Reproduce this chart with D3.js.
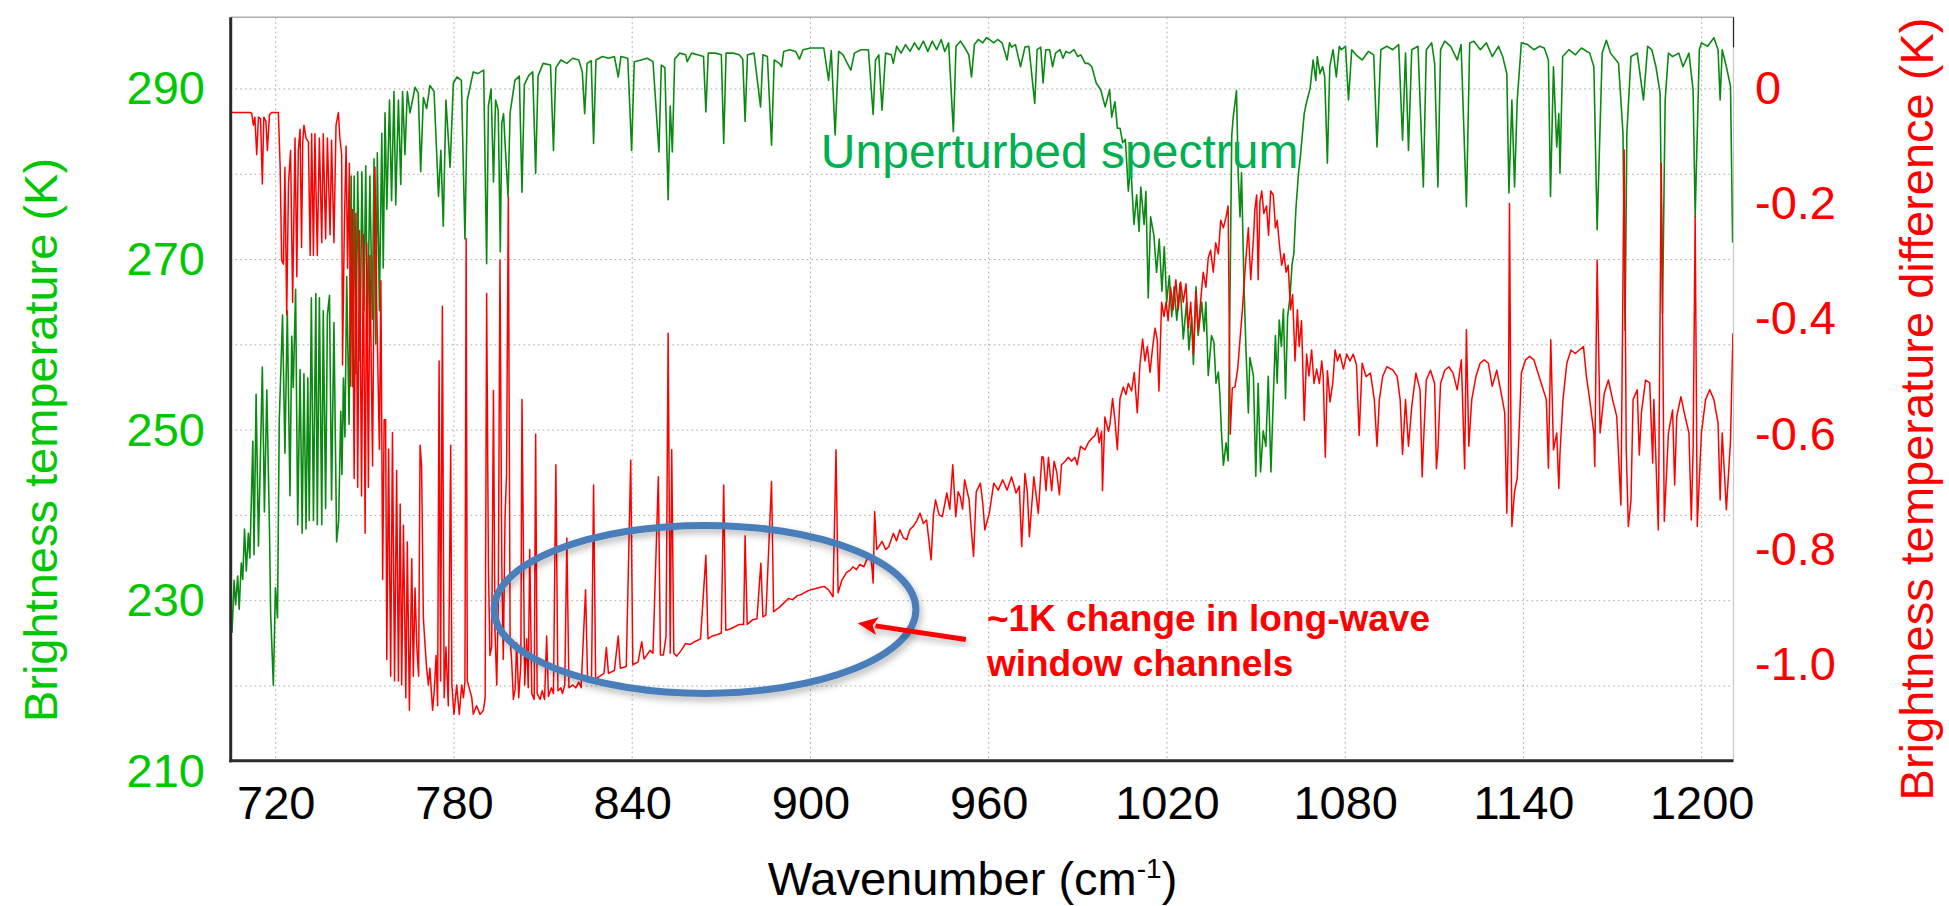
<!DOCTYPE html>
<html>
<head>
<meta charset="utf-8">
<script src="https://cdn.jsdelivr.net/npm/d3@7"></script>
<style>
  html, body { margin: 0; padding: 0; background: #ffffff; }
  svg { display: block; }
  text { font-family: "Liberation Sans", Arial, Helvetica, sans-serif; }
</style>
</head>
<body>
<svg id="chart" width="1949" height="906"></svg>
<script>
// ---------------- data ----------------
const xTicks = [720, 780, 840, 900, 960, 1020, 1080, 1140, 1200];
const leftTicks = [210, 230, 250, 270, 290];
const leftGrid = [220, 230, 240, 250, 260, 270, 280, 290];
const rightTicks = [0, -0.2, -0.4, -0.6, -0.8, -1.0];

// Unperturbed spectrum: [wavenumber (cm-1), brightness temperature (K)]
const unperturbed = [
[704.8,229.5],[705.3,226.3],[706.0,232.4],[706.5,229.5],[707.2,232.9],[707.7,229.0],[708.4,234.4],[708.9,232.5],[709.5,238.4],[710.1,233.5],[710.8,237.9],[711.3,235.0],[712.3,248.7],[712.7,235.4],[713.4,254.2],[714.2,236.4],[715.5,257.4],[716.2,240.4],[717.0,254.7],[717.9,238.4],[718.3,228.5],[719.2,220.1],[719.9,231.5],[720.6,228.0],
[721.2,251.2],[721.7,256.6],[722.3,263.5],[723.1,247.3],[723.9,264.0],[724.8,242.3],[725.4,261.0],[725.9,255.0],[726.7,266.5],[727.4,238.9],[728.2,257.1],[728.9,237.9],[729.5,256.6],[730.2,238.4],[730.8,256.1],[731.3,239.4],[732.0,265.5],[732.7,239.4],[733.5,266.0],[734.0,238.9],[734.7,265.5],[735.5,238.9],[736.0,264.0],[736.8,240.8],[737.4,263.5],[738.1,265.8],[738.8,241.8],[739.6,262.6],[740.5,236.9],[741.2,239.4],[741.9,252.2],[742.3,244.8],[742.8,256.1],[743.3,249.2],[743.9,268.0],[744.7,250.7],
[745.4,279.8],[745.9,255.1],[746.4,279.8],[747.0,256.6],[747.6,280.3],[748.4,258.1],[749.0,280.3],[749.7,264.0],[750.3,281.0],[750.9,261.1],[751.7,279.8],[752.5,263.0],[753.1,281.8],[753.7,260.1],[754.2,282.5],[754.9,264.0],[755.7,284.8],[756.2,269.0],[756.8,287.2],[757.4,275.9],[758.3,288.7],[759.0,276.9],[759.8,289.7],[760.4,276.4],[761.3,288.7],[762.1,278.8],[762.7,289.7],[763.5,282.3],[764.3,289.7],[765.2,287.2],[766.9,290.2],[768.0,289.5],[768.8,280.3],[769.7,289.0],[770.8,287.7],[771.9,290.4],[773.3,289.7],[774.8,277.4],[775.6,282.8],[776.4,273.9],[777.3,288.7],[778.7,280.8],[779.8,290.7],[781.0,291.4],[782.5,291.0],[783.7,272.4],[784.5,288.7],[786.5,292.0],[788.0,291.8],[790.0,292.2],[791.0,269.5],[791.6,288.0],[792.5,290.0],[793.3,279.1],[794.0,288.7],[794.9,287.5],[795.6,270.9],[796.1,286.0],[796.7,287.1],[797.3,283.0],[798.2,277.4],[798.9,287.2],
[800.5,291.0],[802.0,291.5],[802.9,277.9],[803.7,290.5],[805.2,291.6],[806.5,292.0],[807.5,280.1],[808.3,291.5],[810.0,293.0],[812.5,292.8],[813.5,282.8],[814.3,292.5],[816.0,293.4],[818.0,293.0],[820.0,293.6],[822.0,293.4],[823.2,292.0],[824.0,287.1],[824.8,293.0],[826.2,293.3],[827.0,283.6],[827.8,293.4],[830.0,293.8],[832.0,293.6],[834.0,293.8],[835.3,291.4],[836.2,293.8],[838.5,293.6],[839.8,282.8],[840.7,293.2],[843.0,293.4],[845.0,293.6],[847.0,293.2],[849.0,282.6],[849.8,292.8],[851.0,292.5],[852.1,277.0],[852.8,288.0],[853.5,282.6],[854.3,293.5],[856.0,294.2],[858.0,294.0],[858.5,293.2],[860.0,294.2],[862.0,294.0],[864.0,293.8],[864.8,287.3],[865.6,294.2],[868.0,294.2],[870.0,294.0],[870.8,283.6],[871.6,294.2],[874.0,294.2],[876.0,294.0],[877.2,293.5],[878.0,286.2],[878.8,294.0],[881.0,294.2],[883.2,287.9],[884.0,294.0],[885.5,293.8],[886.9,283.4],[887.8,293.4],[889.5,293.0],[890.3,292.6],[891.0,294.4],[893.0,294.6],[895.0,294.4],[896.3,293.5],[897.5,294.6],
[900.0,294.8],[902.0,294.8],[904.5,294.8],[906.1,291.0],[907.0,294.5],[908.3,284.6],[909.5,294.4],[911.0,294.0],[912.1,293.2],[913.6,292.2],[914.8,294.2],[917.0,294.6],[919.5,294.6],[921.1,287.0],[921.9,293.4],[923.0,294.0],[924.1,287.5],[925.3,294.2],[927.2,294.0],[927.9,293.0],[929.0,295.0],[930.5,294.2],[932.0,295.2],[933.5,294.4],[935.0,295.4],[936.5,294.6],[938.0,295.6],[939.5,294.4],[941.0,295.6],[942.5,294.6],[944.0,295.8],[945.2,294.4],[946.5,295.4],[948.1,285.0],[949.0,295.0],[950.5,295.6],[952.0,294.8],[953.3,294.0],[954.2,291.4],[955.2,295.2],[956.5,295.8],[958.0,295.4],[959.2,296.0],[960.2,295.8],[961.7,295.4],[963.0,295.8],[964.5,295.4],[966.2,293.4],[967.0,295.4],[967.7,294.9],[969.0,295.2],[970.7,292.6],[972.2,294.9],[973.5,295.0],[975.5,288.3],[976.3,294.6],[977.5,294.9],[978.3,290.7],[979.2,294.6],[980.5,294.6],[981.5,292.6],[982.5,294.2],[984.0,294.6],[985.0,293.6],[986.0,294.4],[987.2,294.2],[988.7,294.6],[990.0,293.8],[991.0,294.0],[992.5,293.0],[993.5,293.0],[994.7,292.6],[996.2,290.7],[997.7,289.9],[999.2,287.9],
[1000.7,289.9],[1001.4,286.7],[1002.5,288.5],[1003.3,285.4],[1004.2,285.4],[1005.1,283.7],[1006.0,284.1],[1007.0,278.0],[1007.8,281.1],[1008.9,274.1],[1009.8,277.6],[1010.6,273.3],[1011.2,278.5],[1012.3,274.1],[1012.9,278.0],[1013.7,265.5],[1014.5,275.0],[1015.6,272.8],[1016.5,268.5],[1017.4,272.4],[1018.3,266.3],[1019.1,271.5],[1019.9,265.0],[1020.8,268.1],[1021.6,263.3],[1022.4,266.8],[1023.3,262.9],[1024.4,267.2],[1025.5,260.7],[1026.6,265.0],[1027.4,259.4],[1028.3,263.3],[1028.9,257.7],[1029.8,266.8],[1030.5,261.1],[1031.7,265.0],[1032.5,261.6],[1033.1,265.0],[1033.9,256.4],[1035.0,261.1],[1035.8,260.3],[1036.5,255.5],[1037.3,256.8],[1037.8,254.2],[1038.4,249.4],[1039.0,245.9],[1039.9,248.5],[1040.6,246.4],[1041.2,265.0],[1041.8,284.5],[1042.3,286.7],[1043.4,289.8],[1044.0,279.8],[1044.6,275.0],[1045.1,280.2],[1045.9,267.2],[1046.6,259.4],[1047.4,252.0],[1047.9,258.5],[1049.1,256.4],[1049.9,244.6],[1050.7,255.5],[1051.5,245.1],[1052.4,249.9],[1053.3,248.1],[1054.1,256.3],[1055.0,245.1],[1055.8,253.8],[1056.5,261.1],[1057.1,255.5],[1057.8,262.9],[1058.5,259.8],[1059.2,264.2],[1059.9,253.7],[1060.6,263.3],[1061.4,265.5],[1062.1,269.4],[1062.7,270.7],[1063.4,275.9],[1064.2,279.8],[1065.0,282.4],[1066.2,287.1],[1066.9,288.3],[1068.2,290.1],[1069.2,293.4],[1070.1,291.0],[1070.6,293.8],[1071.5,291.8],[1072.4,292.6],[1073.1,291.4],[1074.0,281.3],[1074.8,292.6],[1075.9,294.6],[1077.0,291.4],[1078.0,295.0],[1078.7,294.6],
[1080.1,295.0],[1081.1,288.7],[1082.2,294.6],[1083.6,294.0],[1085.7,293.4],[1087.8,294.4],[1089.6,294.0],[1090.7,283.2],[1092.0,294.6],[1094.0,295.0],[1096.0,294.6],[1098.0,295.2],[1099.3,284.0],[1100.3,294.2],[1101.3,282.8],[1102.4,294.6],[1104.5,295.0],[1106.3,278.5],[1107.3,294.6],[1109.1,295.4],[1110.1,293.0],[1111.2,278.5],[1112.1,294.6],[1113.5,295.6],[1115.5,295.0],[1117.7,293.4],[1119.0,295.2],[1120.8,276.2],[1121.9,295.4],[1123.3,295.6],[1125.5,294.6],[1127.5,295.4],[1129.5,293.8],[1131.6,295.0],[1133.0,293.8],[1134.4,291.8],[1135.1,277.8],[1136.1,288.7],[1137.0,278.5],[1137.9,288.7],[1139.3,295.4],[1141.4,295.2],[1143.5,294.6],[1145.5,295.0],[1147.0,294.8],[1148.4,293.4],[1149.1,277.4],[1150.1,292.6],[1151.2,283.2],[1151.9,287.1],[1152.3,280.1],[1153.2,293.8],[1155.3,294.6],[1157.5,294.0],[1159.5,294.8],[1162.3,294.2],[1163.7,292.6],[1164.8,273.5],[1166.5,294.2],[1167.9,295.7],[1169.3,294.2],[1172.0,293.0],[1173.5,284.8],[1174.2,261.7],[1174.8,284.8],[1176.2,293.8],[1178.3,294.2],[1180.4,288.7],[1181.8,295.0],[1183.2,294.6],[1184.6,292.6],[1186.0,289.5],[1186.8,263.7],[1187.7,288.7],[1188.8,294.2],[1190.2,293.8],[1192.3,294.2],[1193.7,292.6],[1195.7,294.2],[1197.1,289.9],[1197.8,275.0],[1199.2,294.6],[1199.9,295.4],[1202.0,295.0],[1204.1,296.0],[1205.5,294.6],[1206.2,288.7],[1206.9,294.6],[1208.3,292.6],[1209.7,290.3],[1210.4,272.0]
];

// Brightness temperature difference: [wavenumber (cm-1), difference (K)]
const difference = [
[704.7,-0.042],[711.4,-0.042],[711.9,-0.043],[712.5,-0.064],[713.0,-0.05],[713.6,-0.115],[714.2,-0.05],[714.9,-0.053],[715.5,-0.166],[716.0,-0.05],[716.7,-0.057],[717.2,-0.108],[717.9,-0.046],[718.6,-0.042],[720.9,-0.042],
[721.5,-0.137],[722.0,-0.298],[722.6,-0.305],[723.1,-0.137],[723.7,-0.393],[724.3,-0.166],[725.0,-0.108],[725.7,-0.371],[726.5,-0.086],[727.1,-0.327],[727.6,-0.108],[728.2,-0.071],[728.7,-0.276],[729.1,-0.093],[729.5,-0.064],[730.2,-0.086],[731.0,-0.093],[731.6,-0.29],[732.1,-0.079],[732.7,-0.29],[733.2,-0.079],[734.0,-0.29],[734.7,-0.086],[735.5,-0.268],[736.0,-0.079],[736.8,-0.261],[737.4,-0.086],[738.3,-0.254],[738.8,-0.090],[739.6,-0.268],[740.3,-0.064],[741.1,-0.042],[741.6,-0.086],[742.2,-0.115],[742.5,-0.48],[743.1,-0.239],[743.7,-0.100],[744.2,-0.312],[744.8,-0.130],
[745.2,-0.517],[745.8,-0.21],[746.4,-0.677],[747.0,-0.217],[747.6,-0.692],[748.2,-0.247],[748.9,-0.707],[749.5,-0.254],[750.1,-0.772],[750.6,-0.268],[751.2,-0.692],[751.7,-0.290],[752.6,-0.655],[753.4,-0.137],[754.0,-0.378],[754.9,-0.626],[755.4,-0.334],[756.0,-0.852],[756.5,-0.575],[757.0,-0.575],[757.4,-0.991],[758.0,-0.626],[758.7,-1.02],[759.3,-0.597],[760.0,-1.028],[760.7,-0.663],[761.3,-1.028],[761.9,-0.721],[762.4,-1.035],[763.0,-0.758],[763.8,-1.057],[764.3,-0.787],[765.0,-1.079],[765.8,-0.816],[766.3,-1.020],[766.9,-0.867],[767.5,-0.969],[768.1,-1.020],[768.6,-0.619],[769.1,-0.655],[769.7,-0.918],[770.3,-0.969],[770.8,-1.006],[771.4,-1.035],[771.9,-1.006],[772.8,-1.079],[773.4,-1.042],[774.0,-0.984],[774.5,-1.071],[775.0,-0.473],[775.5,-1.028],[776.1,-0.378],[776.7,-1.057],[777.3,-0.969],[778.1,-1.071],[778.9,-0.619],[779.3,-1.035],[780.0,-1.086],[780.9,-1.035],[781.8,-1.086],[782.6,-1.035],[783.2,-1.057],[783.7,-1.028],[784.1,-0.261],[784.5,-1.028],[786.0,-1.057],[786.5,-1.086],[787.6,-1.071],[788.8,-1.086],[789.9,-1.079],[790.5,-1.057],[791.0,-0.356],[791.6,-0.830],[792.1,-0.984],[792.7,-0.969],[793.3,-0.524],[793.8,-0.940],[794.4,-1.035],[794.9,-0.896],[795.5,-0.298],[796.1,-0.823],[796.6,-0.991],[797.2,-0.743],[797.7,-0.670],[798.3,-0.188],[798.9,-0.955],[799.4,-0.991],
[800.0,-1.06],[800.6,-1.042],[801.1,-0.962],[801.8,-1.057],[802.5,-1.0],[802.9,-0.54],[803.8,-1.035],[804.5,-0.955],[805.0,-1.04],[805.5,-0.80],[806.2,-1.05],[807.0,-1.06],[807.5,-0.60],[808.0,-1.05],[809.0,-1.06],[809.7,-1.045],[810.5,-1.06],[811.2,-0.95],[811.8,-1.055],[812.8,-1.04],[813.5,-1.05],[814.3,-0.653],[815.0,-1.045],[816.0,-1.04],[816.5,-1.05],[817.3,-1.035],[818.0,-0.78],[818.7,-1.04],[820.0,-1.035],[821.0,-1.04],[822.0,-1.03],[822.8,-1.04],[824.3,-0.87],[825.0,-1.03],[825.5,-1.025],[826.3,-1.03],[827.0,-0.688],[827.7,-1.025],[829.0,-1.02],[830.5,-1.015],[831.3,-0.97],[832.0,-1.015],[834.0,-1.01],[835.3,-0.95],[836.0,-1.006],[838.0,-1.003],[839.5,-0.645],[840.2,-1.0],[842.0,-0.995],[843.2,-0.96],[844.0,-0.99],[846.0,-0.975],[847.0,-0.98],[848.8,-0.674],[849.5,-0.983],[850.5,-0.983],[851.4,-0.95],[852.1,-0.425],[852.8,-0.98],[853.3,-0.627],[854.0,-0.98],[855.0,-0.985],[856.5,-0.975],[858.0,-0.963],[859.5,-0.965],[861.0,-0.96],[863.0,-0.955],[864.8,-0.81],[865.5,-0.955],[867.0,-0.95],[868.5,-0.948],[870.0,-0.945],[870.8,-0.688],[871.5,-0.94],[873.0,-0.938],[874.5,-0.934],[876.0,-0.93],[877.5,-0.93],[878.0,-0.776],[878.7,-0.93],[880.5,-0.922],[882.0,-0.92],[883.3,-0.824],[884.0,-0.917],[885.0,-0.914],[886.9,-0.682],[887.6,-0.908],[889.6,-0.90],[891.0,-0.893],[892.6,-0.885],[894.0,-0.887],[895.6,-0.88],[897.0,-0.878],[898.6,-0.873],
[900.0,-0.87],[901.6,-0.868],[903.0,-0.866],[904.6,-0.864],[906.1,-0.87],[907.6,-0.882],[908.6,-0.627],[909.3,-0.875],[910.6,-0.853],[912.1,-0.84],[913.6,-0.835],[914.3,-0.83],[915.5,-0.835],[916.6,-0.826],[918.0,-0.83],[918.9,-0.818],[920.4,-0.812],[921.1,-0.858],[921.6,-0.734],[922.3,-0.80],[923.0,-0.795],[924.1,-0.786],[925.3,-0.80],[926.4,-0.795],[927.9,-0.772],[929.0,-0.785],[930.1,-0.766],[931.3,-0.78],[932.4,-0.783],[933.5,-0.765],[934.6,-0.76],[935.8,-0.75],[936.9,-0.737],[938.0,-0.755],[939.1,-0.749],[940.6,-0.818],[941.4,-0.74],[942.1,-0.714],[943.3,-0.74],[944.4,-0.743],[945.9,-0.702],[946.9,-0.73],[947.9,-0.653],[948.9,-0.743],[949.7,-0.70],[950.4,-0.708],[951.2,-0.73],[951.9,-0.679],[953.4,-0.714],[954.2,-0.77],[954.9,-0.812],[955.8,-0.70],[957.2,-0.685],[958.0,-0.72],[958.7,-0.766],[960.2,-0.737],[961.7,-0.685],[963.2,-0.697],[964.7,-0.679],[966.2,-0.697],[967.7,-0.674],[969.2,-0.702],[970.3,-0.69],[971.1,-0.795],[972.2,-0.668],[973.0,-0.70],[973.7,-0.778],[975.2,-0.674],[976.7,-0.737],[977.9,-0.639],[978.4,-0.64],[979.3,-0.698],[980.1,-0.64],[981.2,-0.698],[982.0,-0.647],[982.9,-0.666],[983.8,-0.705],[984.5,-0.653],[985.7,-0.647],[986.8,-0.640],[987.9,-0.647],[989.0,-0.640],[989.8,-0.653],[990.9,-0.621],[992.4,-0.627],[993.5,-0.615],[994.6,-0.608],[995.8,-0.602],[996.6,-0.589],[997.2,-0.615],[998.0,-0.595],[998.3,-0.698],[999.1,-0.570],
[1000.3,-0.595],[1000.8,-0.583],[1001.7,-0.538],[1002.5,-0.576],[1003.3,-0.627],[1004.2,-0.538],[1005.3,-0.518],[1006.2,-0.531],[1007.0,-0.512],[1008.1,-0.525],[1009.0,-0.493],[1010.0,-0.563],[1010.9,-0.480],[1011.8,-0.435],[1012.6,-0.473],[1013.4,-0.448],[1014.3,-0.493],[1015.2,-0.448],[1016.0,-0.416],[1016.7,-0.435],[1017.3,-0.525],[1018.2,-0.371],[1019.0,-0.396],[1019.7,-0.371],[1020.4,-0.403],[1021.2,-0.345],[1022.1,-0.384],[1023.0,-0.332],[1023.8,-0.384],[1024.6,-0.336],[1025.5,-0.371],[1026.4,-0.339],[1027.2,-0.416],[1028.0,-0.371],[1028.9,-0.461],[1029.7,-0.351],[1030.5,-0.422],[1031.3,-0.371],[1032.2,-0.319],[1033.1,-0.345],[1033.9,-0.294],[1034.7,-0.281],[1035.6,-0.319],[1036.4,-0.268],[1037.3,-0.287],[1038.1,-0.229],[1039.0,-0.242],[1039.9,-0.223],[1040.6,-0.204],[1041.3,-0.600],[1042.0,-0.520],[1042.9,-0.518],[1043.8,-0.487],[1044.6,-0.435],[1045.4,-0.384],[1045.9,-0.345],[1046.6,-0.294],[1047.4,-0.242],[1048.2,-0.332],[1049.1,-0.262],[1049.6,-0.21],[1050.2,-0.185],[1050.7,-0.332],[1051.3,-0.197],[1051.9,-0.178],[1052.6,-0.217],[1053.5,-0.204],[1054.2,-0.255],[1054.9,-0.178],[1055.8,-0.185],[1056.5,-0.242],[1057.1,-0.229],[1057.8,-0.268],[1058.6,-0.307],[1059.4,-0.287],[1060.1,-0.319],[1060.8,-0.307],[1061.6,-0.384],[1062.3,-0.358],[1063.1,-0.473],[1063.9,-0.384],[1064.5,-0.448],[1065.3,-0.403],[1066.2,-0.576],[1067.0,-0.461],[1067.8,-0.499],[1068.7,-0.454],[1069.5,-0.512],[1070.4,-0.487],[1071.3,-0.512],[1072.1,-0.473],[1072.6,-0.499],[1073.3,-0.640],[1074.0,-0.490],[1074.9,-0.544],[1075.8,-0.512],[1076.6,-0.454],[1077.4,-0.473],[1078.2,-0.461],[1079.4,-0.487],
[1080.5,-0.461],[1081.6,-0.473],[1082.7,-0.461],[1083.8,-0.480],[1084.7,-0.602],[1085.7,-0.477],[1087.0,-0.500],[1088.5,-0.494],[1089.8,-0.540],[1090.7,-0.621],[1091.5,-0.540],[1092.6,-0.500],[1094.0,-0.483],[1096.1,-0.489],[1097.5,-0.500],[1098.5,-0.540],[1099.3,-0.635],[1100.3,-0.540],[1101.3,-0.621],[1102.4,-0.552],[1103.8,-0.494],[1105.2,-0.523],[1105.9,-0.674],[1106.3,-0.621],[1107.3,-0.506],[1108.7,-0.489],[1110.1,-0.512],[1110.7,-0.660],[1111.2,-0.627],[1112.1,-0.512],[1113.5,-0.489],[1114.9,-0.483],[1116.3,-0.494],[1117.7,-0.523],[1119.1,-0.471],[1120.2,-0.660],[1120.8,-0.419],[1121.6,-0.621],[1122.6,-0.540],[1124.0,-0.500],[1125.4,-0.477],[1126.8,-0.471],[1128.2,-0.477],[1129.5,-0.517],[1131.0,-0.489],[1132.3,-0.523],[1133.7,-0.563],[1134.4,-0.737],[1134.9,-0.600],[1135.3,-0.200],[1135.8,-0.600],[1136.1,-0.760],[1137.0,-0.700],[1137.9,-0.676],[1139.3,-0.494],[1140.7,-0.471],[1142.1,-0.465],[1143.5,-0.471],[1144.9,-0.494],[1146.3,-0.517],[1147.7,-0.540],[1148.4,-0.659],[1149.2,-0.436],[1150.1,-0.627],[1151.2,-0.598],[1151.9,-0.694],[1152.3,-0.633],[1153.3,-0.540],[1154.6,-0.477],[1156.0,-0.454],[1157.4,-0.460],[1158.8,-0.454],[1160.2,-0.448],[1161.2,-0.500],[1162.3,-0.540],[1163.7,-0.598],[1164.0,-0.656],[1164.8,-0.298],[1165.8,-0.598],[1167.2,-0.529],[1168.6,-0.506],[1170.0,-0.540],[1171.4,-0.569],[1172.8,-0.723],[1173.9,-0.107],[1174.6,-0.627],[1175.3,-0.760],[1176.2,-0.714],[1176.9,-0.540],[1178.3,-0.523],[1179.0,-0.636],[1179.7,-0.563],[1181.1,-0.506],[1182.5,-0.511],[1183.5,-0.650],[1183.9,-0.540],[1185.4,-0.766],[1186.4,-0.130],[1187.4,-0.751],[1188.8,-0.598],[1190.2,-0.558],[1190.9,-0.688],[1191.6,-0.569],[1193.0,-0.535],[1194.4,-0.569],[1195.7,-0.598],[1196.5,-0.749],[1197.1,-0.627],[1197.8,-0.223],[1198.5,-0.760],[1199.9,-0.598],[1201.3,-0.540],[1202.7,-0.523],[1204.1,-0.540],[1205.5,-0.581],[1206.2,-0.714],[1206.9,-0.598],[1208.3,-0.731],[1209.7,-0.610],[1210.5,-0.425]
];

// Annotation anchors, in data units (wavenumber, left-axis K)
const ellipseCenter = [864.5, 228.98];
const ellipseRadii = [71.0, 9.85];
const arrowTail = [952.3, 225.45];
const arrowTip = [915.9, 227.36];
const labelSpectrum = [903.5, 280.74];
const labelChange = [959.4, 226.45];

// ---------------- layout ----------------
const W = 1949, H = 906;
const box = { left: 230.7, right: 1733.5, top: 17.3, bottom: 760.7 };
const FONT = '"Liberation Sans", Arial, Helvetica, sans-serif';
const GREEN_LABEL = "#00c800";
const RED = "#ff0000";

const svg = d3.select("#chart").attr("viewBox", `0 0 ${W} ${H}`);
svg.append("rect").attr("width", W).attr("height", H).attr("fill", "#ffffff");

const x = d3.scaleLinear().domain([704.85, 1210.7]).range([box.left, box.right]);
const yL = d3.scaleLinear().domain([211.24, 298.4]).range([box.bottom, box.top]);
const yR = d3.scaleLinear().domain([-1.1664, 0.1232]).range([box.bottom, box.top]);

const defs = svg.append("defs");
defs.append("clipPath").attr("id", "plotClip")
  .append("rect").attr("x", box.left).attr("y", box.top)
  .attr("width", box.right - box.left).attr("height", box.bottom - box.top);
const f = defs.append("filter").attr("id", "shadow")
  .attr("x", "-10%").attr("y", "-20%").attr("width", "130%").attr("height", "150%");
f.append("feDropShadow").attr("dx", 2).attr("dy", 4).attr("stdDeviation", 3.5)
  .attr("flood-color", "#000").attr("flood-opacity", 0.28);

// grid
const grid = svg.append("g").attr("stroke", "#a8a8a8").attr("stroke-width", 1)
  .attr("stroke-dasharray", "1.6,3.2");
grid.selectAll("line.v").data(xTicks).join("line").attr("class", "v")
  .attr("x1", d => x(d)).attr("x2", d => x(d)).attr("y1", box.top).attr("y2", box.bottom);
grid.selectAll("line.h").data(leftGrid).join("line").attr("class", "h")
  .attr("x1", box.left).attr("x2", box.right).attr("y1", d => yL(d)).attr("y2", d => yL(d));

// series
const plot = svg.append("g").attr("clip-path", "url(#plotClip)");
plot.append("path").datum(unperturbed)
  .attr("fill", "none").attr("stroke", "#0b8a12").attr("stroke-width", 1.6)
  .attr("stroke-linejoin", "round")
  .attr("d", d3.line().x(d => x(d[0])).y(d => yL(d[1])));
plot.append("path").datum(difference)
  .attr("fill", "none").attr("stroke", RED).attr("stroke-width", 1.5)
  .attr("stroke-linejoin", "round")
  .attr("d", d3.line().x(d => x(d[0])).y(d => yR(d[1])));

// frame
svg.append("line").attr("x1", box.left).attr("x2", box.right).attr("y1", box.top).attr("y2", box.top)
  .attr("stroke", "#b0b0b0").attr("stroke-width", 1.5);
svg.append("line").attr("x1", box.right).attr("x2", box.right).attr("y1", box.top).attr("y2", box.bottom)
  .attr("stroke", "#c8c8c8").attr("stroke-width", 1.2);
svg.append("line").attr("x1", box.right).attr("x2", box.right).attr("y1", box.top).attr("y2", box.top + 30)
  .attr("stroke", "#222").attr("stroke-width", 1.2);
svg.append("line").attr("x1", box.left).attr("x2", box.left).attr("y1", box.top).attr("y2", box.bottom + 1.5)
  .attr("stroke", "#2b2b2b").attr("stroke-width", 3);
svg.append("line").attr("x1", box.left - 1.5).attr("x2", box.right).attr("y1", box.bottom).attr("y2", box.bottom)
  .attr("stroke", "#2b2b2b").attr("stroke-width", 3);

// axes
function styleAxis(g, color) {
  g.select(".domain").remove();
  g.selectAll(".tick line").remove();
  g.selectAll("text").attr("fill", color).attr("font-size", 47).attr("font-family", FONT);
}
svg.append("g").attr("transform", `translate(0,${box.bottom})`)
  .call(d3.axisBottom(x).tickValues(xTicks).tickSize(0).tickPadding(25).tickFormat(d3.format("d")))
  .call(g => styleAxis(g, "#000"));
svg.append("g").attr("transform", `translate(${box.left},0)`)
  .call(d3.axisLeft(yL).tickValues(leftTicks).tickSize(0).tickPadding(25.7).tickFormat(d3.format("d")))
  .call(g => styleAxis(g, GREEN_LABEL));
svg.append("g").attr("transform", `translate(${box.right},0)`)
  .call(d3.axisRight(yR).tickValues(rightTicks).tickSize(0).tickPadding(21.5)
    .tickFormat(d => d === 0 ? "0" : d.toFixed(1)))
  .call(g => styleAxis(g, RED));

// axis titles
svg.append("text").attr("transform", "translate(57,440) rotate(-90)")
  .attr("text-anchor", "middle").attr("font-size", 47).attr("fill", GREEN_LABEL)
  .text("Brightness temperature (K)");
svg.append("text").attr("transform", "translate(1933,409) rotate(-90)")
  .attr("text-anchor", "middle").attr("font-size", 47).attr("fill", RED)
  .text("Brightness temperature difference (K)");
const xt = svg.append("text").attr("x", 972.5).attr("y", 895).attr("text-anchor", "middle")
  .attr("font-size", 47).attr("fill", "#000");
xt.append("tspan").text("Wavenumber (cm");
xt.append("tspan").attr("font-size", 28).attr("dy", -17).text("-1");
xt.append("tspan").attr("dy", 17).text(")");

// annotations
svg.append("text").attr("x", x(labelSpectrum[0])).attr("y", yL(labelSpectrum[1]))
  .attr("font-size", 48).attr("fill", "#00b050").text("Unperturbed spectrum");

const cx = x(ellipseCenter[0]), cy = yL(ellipseCenter[1]);
svg.append("ellipse").attr("cx", cx).attr("cy", cy)
  .attr("rx", x(ellipseCenter[0] + ellipseRadii[0]) - cx)
  .attr("ry", cy - yL(ellipseCenter[1] + ellipseRadii[1]))
  .attr("fill", "none").attr("stroke", "#4a7ebb").attr("stroke-width", 7)
  .attr("filter", "url(#shadow)");

const tx = x(arrowTail[0]), ty = yL(arrowTail[1]);
const hx = x(arrowTip[0]), hy = yL(arrowTip[1]);
const len = Math.hypot(hx - tx, hy - ty), ux = (hx - tx) / len, uy = (hy - ty) / len;
const nx = -uy, ny = ux, headL = 20, headW = 9;
const arrow = svg.append("g").attr("filter", "url(#shadow)");
arrow.append("line").attr("x1", tx).attr("y1", ty)
  .attr("x2", hx - ux * (headL - 2)).attr("y2", hy - uy * (headL - 2))
  .attr("stroke", RED).attr("stroke-width", 5);
arrow.append("path").attr("fill", RED)
  .attr("d", `M${hx},${hy} L${hx - ux * headL + nx * headW},${hy - uy * headL + ny * headW} ` +
             `L${hx - ux * headL * 0.75},${hy - uy * headL * 0.75} ` +
             `L${hx - ux * headL - nx * headW},${hy - uy * headL - ny * headW} Z`);

const ann = svg.append("text").attr("x", x(labelChange[0])).attr("y", yL(labelChange[1]))
  .attr("font-size", 37).attr("font-weight", "bold").attr("fill", RED);
ann.append("tspan").text("~1K change in long-wave");
ann.append("tspan").attr("x", x(labelChange[0])).attr("dy", 45).text("window channels");
</script>
</body>
</html>
